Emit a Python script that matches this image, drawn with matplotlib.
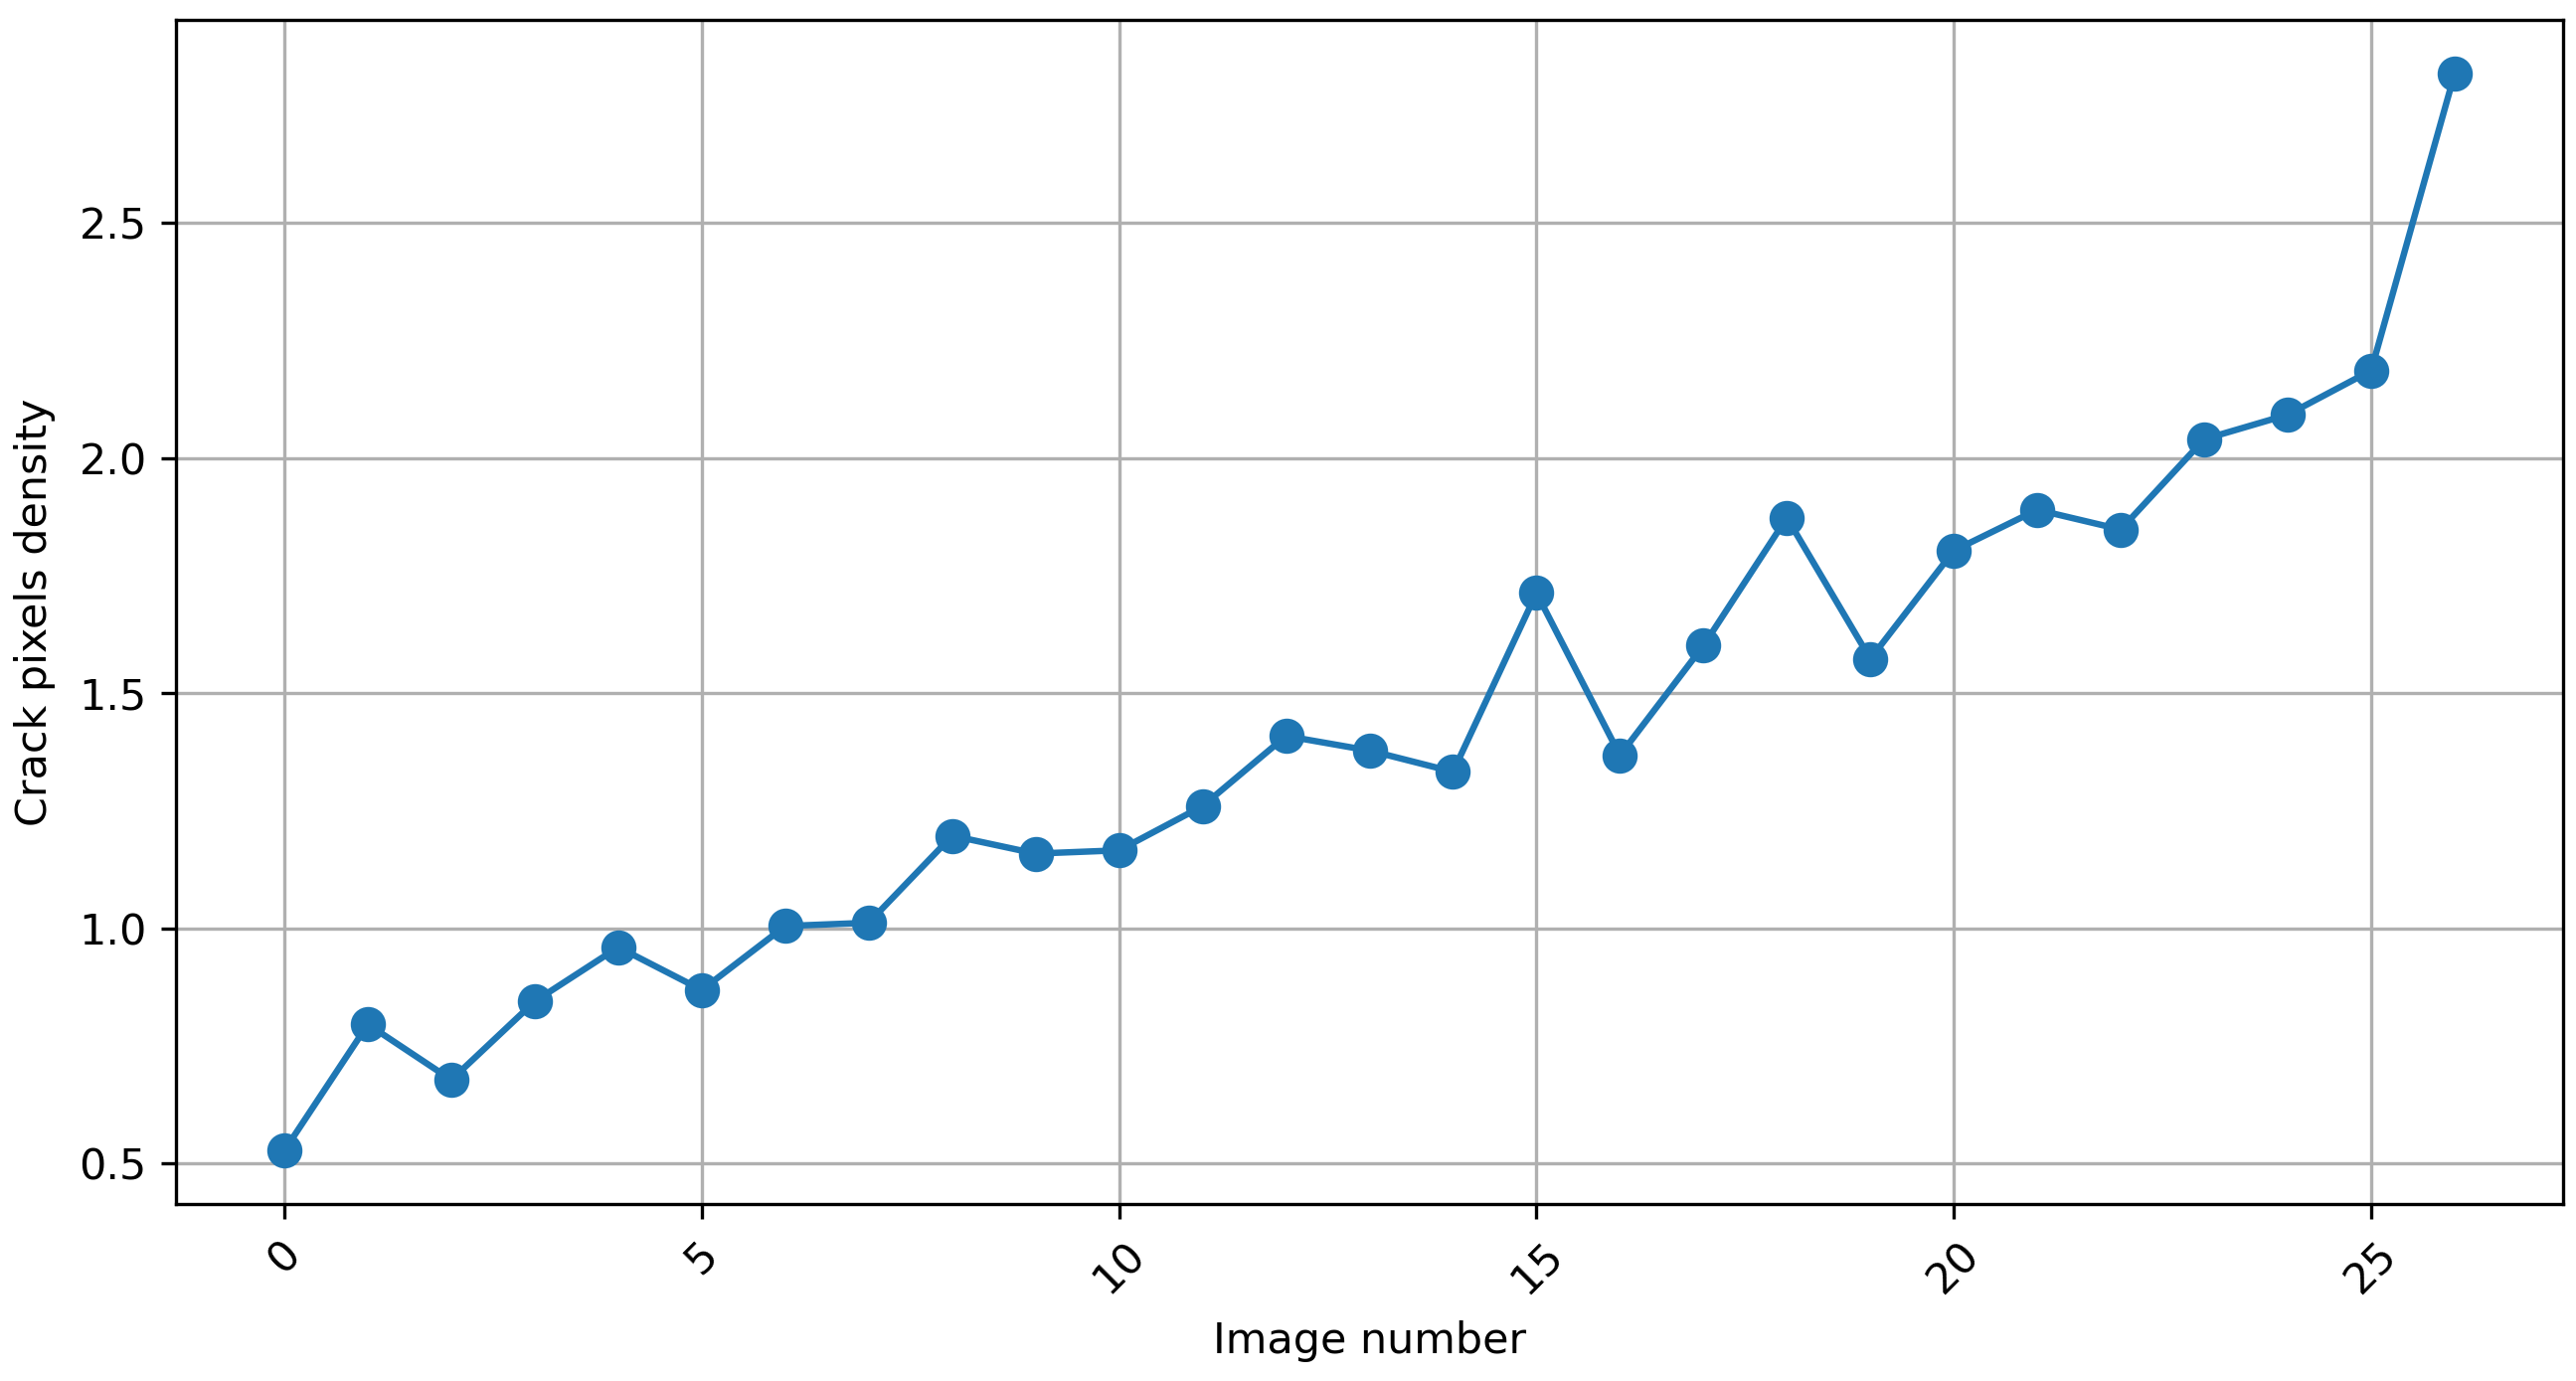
import matplotlib
matplotlib.use("Agg")
import matplotlib.pyplot as plt

image_number = list(range(27))
crack_density = [
    0.528, 0.796, 0.678, 0.845, 0.960, 0.869, 1.005, 1.012, 1.197, 1.159,
    1.166, 1.260, 1.409, 1.378, 1.333, 1.713, 1.368, 1.601, 1.873, 1.573,
    1.803, 1.890, 1.848, 2.040, 2.092, 2.186, 2.817,
]

plt.rcParams["font.size"] = 10.3
plt.rcParams["lines.linewidth"] = 1.55

fig, ax = plt.subplots(figsize=(2591 / 300, 1389 / 300), dpi=300)
fig.subplots_adjust(left=0.0683, right=0.995, top=0.9856, bottom=0.128)

ax.plot(image_number, crack_density, marker="o", markersize=7.5, color="tab:blue")
ax.set_xlabel("Image number", labelpad=4.6)
ax.set_ylabel("Crack pixels density", labelpad=5.6)
ax.tick_params(axis="x", labelrotation=45)
ax.grid(True)

fig.savefig("out.png", dpi=300)
